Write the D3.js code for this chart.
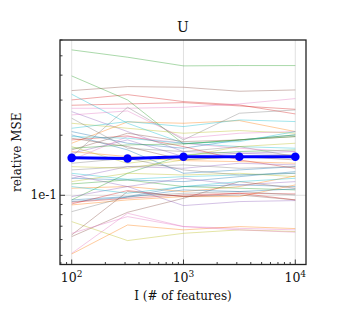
<!DOCTYPE html>
<html>
<head>
<meta charset="utf-8">
<script src="https://cdn.jsdelivr.net/npm/d3@7"></script>
<style>
  body { margin: 0; background: #fff; }
  svg { display: block; }
  text { font-family: "DejaVu Serif", serif; fill: #111; }
</style>
</head>
<body>
<svg id="chart" width="341" height="331"></svg>
<script>
// number of features (x positions)
var features = [100, 316, 1000, 3162, 10000];

// mean relative MSE (thick blue line)
var meanMSE = [0.154, 0.153, 0.156, 0.156, 0.156];

// single runs, in colour-cycle order (tab10)
var runs = [
  [0.2086, 0.1823, 0.1721, 0.1895, 0.2007],
  [0.1823, 0.2332, 0.2296, 0.2368, 0.2086],
  [0.5353, 0.4919, 0.4451, 0.4468, 0.4468],
  [0.3005, 0.3195, 0.2948, 0.2836, 0.2557],
  [0.2626, 0.2086, 0.1656, 0.1624, 0.1593],
  [0.3347, 0.3505, 0.3478, 0.3321, 0.3372],
  [0.2729, 0.2729, 0.2761, 0.2870, 0.3052],
  [0.1563, 0.2761, 0.1895, 0.2577, 0.2677],
  [0.2296, 0.2167, 0.2046, 0.2110, 0.2046],
  [0.3208, 0.2296, 0.1823, 0.1754, 0.1721],

  [0.2007, 0.1688, 0.1289, 0.1340, 0.1392],
  [0.1656, 0.1563, 0.1492, 0.1475, 0.1447],
  [0.3964, 0.3005, 0.1809, 0.1895, 0.2007],
  [0.2826, 0.2870, 0.2914, 0.2804, 0.2698],
  [0.1624, 0.1895, 0.1563, 0.1624, 0.1656],
  [0.1931, 0.1754, 0.1504, 0.1563, 0.1504],
  [0.2528, 0.2647, 0.1931, 0.2046, 0.2086],
  [0.2433, 0.1721, 0.1656, 0.1754, 0.1563],
  [0.1754, 0.1447, 0.1563, 0.1754, 0.1823],
  [0.2167, 0.2341, 0.2210, 0.2386, 0.2341],

  [0.1217, 0.1194, 0.1171, 0.1240, 0.1314],
  [0.1085, 0.1106, 0.1044, 0.1106, 0.1250],
  [0.0948, 0.1289, 0.1593, 0.1656, 0.1688],
  [0.1895, 0.1984, 0.1754, 0.1504, 0.1366],
  [0.1217, 0.1392, 0.1366, 0.1447, 0.1420],
  [0.1688, 0.2046, 0.1858, 0.1895, 0.1969],
  [0.1504, 0.1969, 0.1823, 0.1721, 0.1656],
  [0.1340, 0.1392, 0.1420, 0.1366, 0.1392],
  [0.1171, 0.1289, 0.1264, 0.1289, 0.1240],
  [0.1289, 0.1203, 0.1240, 0.1264, 0.1289],

  [0.0948, 0.0985, 0.1106, 0.1127, 0.1106],
  [0.0895, 0.0948, 0.0985, 0.0985, 0.1127],
  [0.1140, 0.1194, 0.1106, 0.1085, 0.1064],
  [0.0905, 0.1056, 0.0985, 0.1024, 0.1016],
  [0.1264, 0.1106, 0.1217, 0.1127, 0.1171],
  [0.0621, 0.0822, 0.0966, 0.1171, 0.1085],
  [0.0512, 0.0813, 0.0697, 0.0683, 0.0671],
  [0.0828, 0.0985, 0.1024, 0.1044, 0.1004],
  [0.0738, 0.0593, 0.0645, 0.0671, 0.0658],
  [0.1969, 0.1931, 0.1823, 0.1858, 0.2086],

  [0.0930, 0.0978, 0.1064, 0.1044, 0.1076],
  [0.0508, 0.0710, 0.0671, 0.0697, 0.0681],
  [0.1721, 0.1788, 0.1809, 0.1895, 0.1969],
  [0.0923, 0.0966, 0.1004, 0.1024, 0.0948],
  [0.0985, 0.1106, 0.0888, 0.0930, 0.0941],
  [0.0633, 0.1044, 0.0985, 0.1004, 0.0948],
  [0.0645, 0.0782, 0.0697, 0.0671, 0.0653],
  [0.1447, 0.1533, 0.1340, 0.1264, 0.1289],
  [0.1392, 0.1366, 0.1504, 0.1563, 0.1593],
  [0.1106, 0.1024, 0.1106, 0.1171, 0.1217]
];

var xMajor = [100, 1000, 10000];
var yLabelTicks = [0.1];

var svg = d3.select('#chart');
var L = 60, R = 306, T = 40, B = 264.5;

var x = d3.scaleLog().domain([78.6, 12470]).range([L, R]);
var y = d3.scaleLog().domain([0.045, 0.6]).range([B, T]);

// grid
svg.append('g').selectAll('line').data(xMajor).join('line')
  .attr('x1', d => x(d)).attr('x2', d => x(d))
  .attr('y1', T).attr('y2', B)
  .attr('stroke', '#d9d9d9').attr('stroke-width', 0.8);
svg.append('g').selectAll('line').data(yLabelTicks).join('line')
  .attr('x1', L).attr('x2', R)
  .attr('y1', d => y(d)).attr('y2', d => y(d))
  .attr('stroke', '#d9d9d9').attr('stroke-width', 0.8);

// thin lines
var line = d3.line().x((d, i) => x(features[i])).y(d => y(d));
svg.append('g').selectAll('path').data(runs).join('path')
  .attr('d', line)
  .attr('fill', 'none')
  .attr('stroke', (d, i) => d3.schemeCategory10[i % 10])
  .attr('stroke-width', 0.8)
  .attr('stroke-opacity', 0.5);

// mean line
svg.append('path').datum(meanMSE)
  .attr('d', line)
  .attr('fill', 'none')
  .attr('stroke', '#0000ff')
  .attr('stroke-width', 3);
svg.append('g').selectAll('circle').data(meanMSE).join('circle')
  .attr('cx', (d, i) => x(features[i]))
  .attr('cy', d => y(d))
  .attr('r', 4.3)
  .attr('fill', '#0000ff');

// ticks (inward)
var xTicks = x.ticks();
svg.append('g').selectAll('line').data(xTicks).join('line')
  .attr('x1', d => x(d)).attr('x2', d => x(d))
  .attr('y1', B).attr('y2', d => xMajor.includes(d) ? B - 5 : B - 2.5)
  .attr('stroke', '#111').attr('stroke-width', 0.8);
var yTicks = y.ticks().filter(d => d >= 0.045 && d <= 0.6);
svg.append('g').selectAll('line').data(yTicks).join('line')
  .attr('x1', L).attr('x2', d => yLabelTicks.includes(d) ? L + 5 : L + 2.5)
  .attr('y1', d => y(d)).attr('y2', d => y(d))
  .attr('stroke', '#111').attr('stroke-width', 0.8);

// frame
svg.append('rect')
  .attr('x', L).attr('y', T).attr('width', R - L).attr('height', B - T)
  .attr('fill', 'none').attr('stroke', '#222').attr('stroke-width', 1.3);

// tick labels
var xl = svg.append('g').selectAll('text').data(xMajor).join('text')
  .attr('x', d => x(d)).attr('y', 282)
  .attr('text-anchor', 'middle')
  .style('font-size', '12.5px');
xl.append('tspan').text('10');
xl.append('tspan').attr('dy', -5).style('font-size', '9px').text(d => Math.round(Math.log10(d)));

svg.append('g').selectAll('text').data(yLabelTicks).join('text')
  .attr('x', L - 3).attr('y', d => y(d) + 4)
  .attr('text-anchor', 'end')
  .style('font-size', '12px')
  .text('1e-1');

// labels
svg.append('text').attr('x', (L + R) / 2).attr('y', 32)
  .attr('text-anchor', 'middle').style('font-size', '14px').text('U');
svg.append('text').attr('x', (L + R) / 2).attr('y', 300)
  .attr('text-anchor', 'middle').style('font-size', '12px').text('I  (# of features)');
svg.append('text')
  .attr('transform', 'translate(21,' + ((T + B) / 2) + ') rotate(-90)')
  .attr('text-anchor', 'middle').style('font-size', '12px').text('relative MSE');
</script>
</body>
</html>
